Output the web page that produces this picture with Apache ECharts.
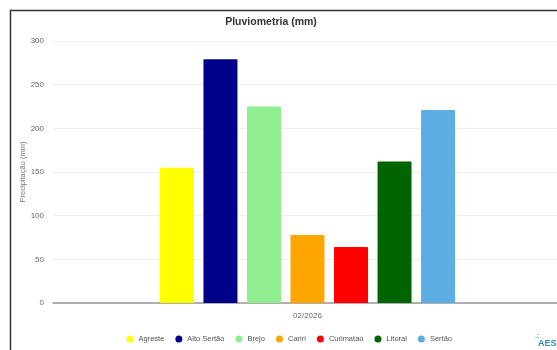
<!DOCTYPE html>
<html>
<head>
<meta charset="utf-8">
<script src="https://cdn.jsdelivr.net/npm/echarts@6/dist/echarts.min.js"></script>
<style>
  html, body { margin: 0; padding: 0; background: #fff; }
  #chart { width: 557px; height: 350px; }
</style>
</head>
<body>
<div id="chart"></div>
<script>
// Monthly rainfall per region
const periods = ['02/2026'];
const regions = ['Agreste', 'Alto Sertão', 'Brejo', 'Cariri', 'Curimataú', 'Litoral', 'Sertão'];
const rainfall = [155, 279, 225, 78, 64, 162, 221];
const regionColors = ['#ffff00', '#00008b', '#90ee90', '#ffa500', '#ff0000', '#006400', '#5dade2'];
const yTicks = [0, 50, 100, 150, 200, 250, 300];

const FONT = 'Liberation Sans, Arial, sans-serif';

const chart = echarts.init(document.getElementById('chart'), null, { renderer: 'canvas' });

const series = regions.map((name, i) => ({
  name: name,
  type: 'bar',
  data: [rainfall[i]],
  barWidth: 34,
  barGap: '28%',
  itemStyle: { color: regionColors[i], borderRadius: [1, 1, 0, 0] },
  emphasis: { disabled: true }
}));

chart.setOption({
  animation: false,
  backgroundColor: '#fff',
  color: regionColors,
  title: {
    text: 'Pluviometria (mm)',
    left: 266,
    top: 12,
    textAlign: 'center',
    textStyle: { fontFamily: FONT, fontSize: 10.5, fontWeight: 'bold', color: '#333' }
  },
  legend: {
    data: regions,
    left: 121.5,
    top: 330,
    icon: 'circle',
    itemWidth: 7,
    itemHeight: 7,
    itemGap: 11,
    textStyle: { fontFamily: FONT, fontSize: 7.5, color: '#555' }
  },
  grid: { left: 53, top: 41, width: 509, height: 262, outerBoundsMode: 'none', containLabel: false },
  xAxis: {
    type: 'category',
    data: periods,
    axisLine: { lineStyle: { color: '#999', width: 1.5 } },
    axisTick: { show: false },
    axisLabel: { fontFamily: FONT, fontSize: 8, color: '#666', margin: 9 }
  },
  yAxis: {
    type: 'value',
    min: yTicks[0],
    max: yTicks[yTicks.length - 1],
    interval: 50,
    name: 'Precipitação (mm)',
    nameLocation: 'middle',
    nameGap: 26,
    nameMoveOverlap: false,
    nameTextStyle: { fontFamily: FONT, fontSize: 7.5, color: '#777' },
    axisLine: { show: false },
    axisTick: { show: false },
    splitLine: { lineStyle: { color: '#eeeeee', width: 1 } },
    axisLabel: { fontFamily: FONT, fontSize: 8, color: '#666', margin: 9 }
  },
  graphic: [
    {
      type: 'polyline',
      shape: { points: [[10.5, 360], [10.5, 10.5], [570, 10.5]] },
      style: { stroke: '#333', lineWidth: 1.5, fill: null },
      silent: true
    },
    {
      type: 'text',
      left: 538,
      top: 339,
      style: { text: 'AESA', fontFamily: FONT, fontSize: 9, fontWeight: 'bold', fill: '#2b8cbe' },
      silent: true
    },
    {
      type: 'text',
      left: 535,
      top: 333,
      style: { text: '.:', fontFamily: FONT, fontSize: 7, fontWeight: 'bold', fill: '#3bb0d8' },
      silent: true
    }
  ],
  series: series
});
</script>
</body>
</html>
